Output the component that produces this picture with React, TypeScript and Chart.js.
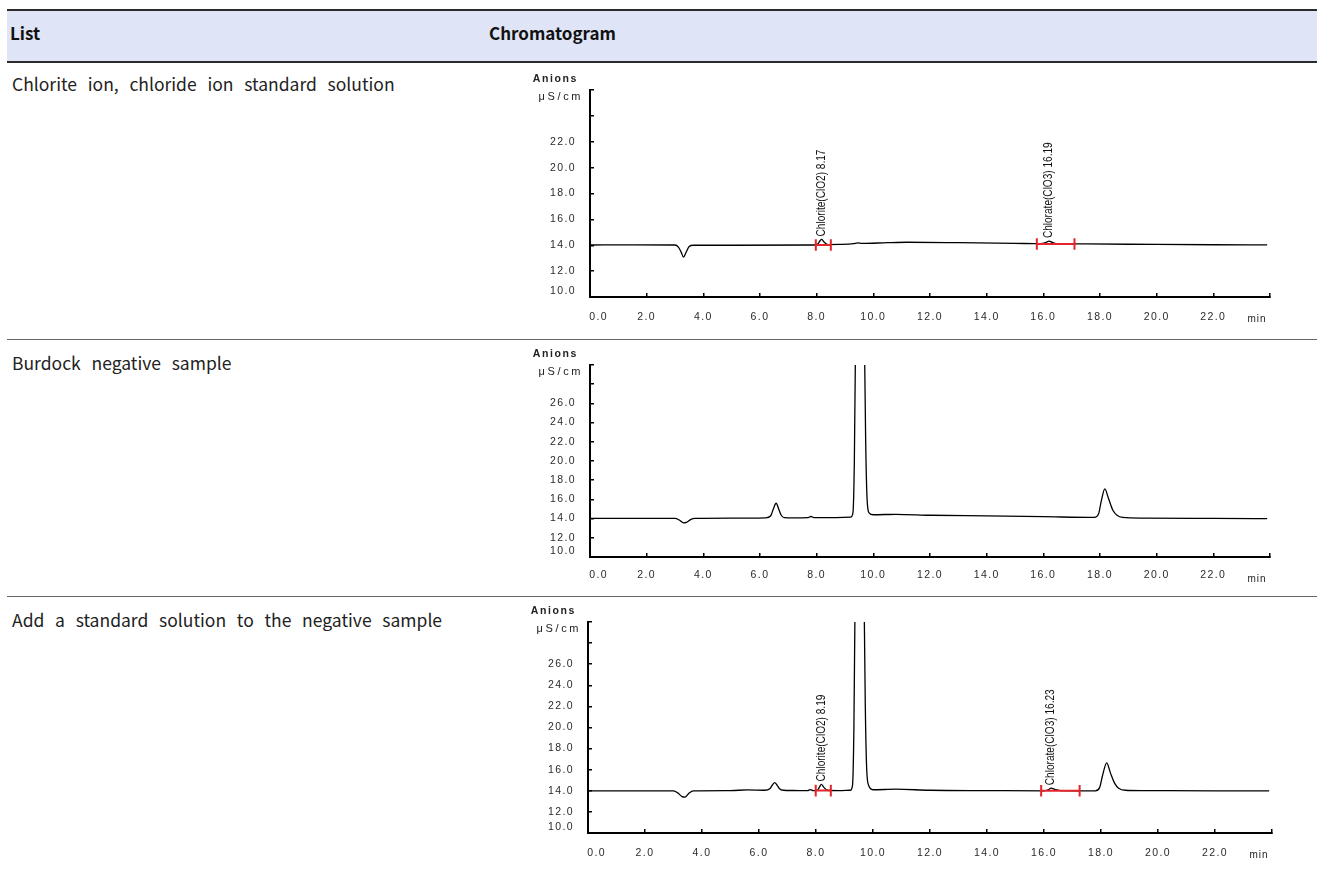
import React, { useEffect, useRef } from 'react';
import { Chart, registerables } from 'chart.js';

Chart.register(...registerables);

// ---------- table text ----------
const headerLabels = ['List', 'Chromatogram'];
const rowLabels = [
  'Chlorite ion, chloride ion standard solution',
  'Burdock negative sample',
  'Add a standard solution to the negative sample',
];

// ---------- axis settings ----------
const xMin = 0;
const xMax = 24;
const xStep = 2;
const xUnit = 'min';
const yUnitTitle = 'Anions';
const yUnit = 'μS/cm';
const yStep = 2;

// ---------- chart 1: standard solution ----------
const stdTime = [0, 1.5, 3.0, 3.12, 3.22, 3.3, 3.38, 3.5, 3.65, 5.0, 7.9, 8.05, 8.12, 8.18, 8.26, 8.4, 8.8, 9.3, 9.45, 9.6, 10.5, 11.2, 13.0, 15.0, 15.9, 16.1, 16.2, 16.32, 16.5, 17.5, 20.0, 22.0, 23.9];
const stdSignal = [14.02, 14.03, 14.02, 13.85, 13.45, 13.08, 13.4, 13.9, 14.0, 14.0, 14.02, 14.12, 14.35, 14.45, 14.25, 14.05, 14.06, 14.12, 14.18, 14.14, 14.2, 14.23, 14.2, 14.15, 14.12, 14.22, 14.32, 14.22, 14.12, 14.1, 14.06, 14.04, 14.03];
const stdYMax = 26;
const stdLastLabel = 22;
const stdPeakNames = ['Chlorite(ClO2) 8.17', 'Chlorate(ClO3) 16.19'];
const stdPeakTimes = [8.17, 16.19];
const stdIntStart = [7.97, 15.77];
const stdIntEnd = [8.5, 17.1];
const stdIntLevel = [14.02, 14.1];

// ---------- chart 2: burdock negative sample ----------
const negTime = [0, 2.0, 3.0, 3.15, 3.3, 3.4, 3.55, 3.7, 5.0, 6.2, 6.38, 6.47, 6.57, 6.66, 6.74, 6.85, 7.2, 7.7, 7.8, 7.9, 8.5, 9.2, 9.28, 9.33, 9.37, 9.45, 9.52, 9.6, 9.68, 9.73, 9.78, 9.85, 10.0, 10.8, 12.0, 14.0, 16.0, 17.8, 17.95, 18.05, 18.17, 18.3, 18.45, 18.6, 18.8, 19.5, 22.0, 23.9];
const negSignal = [14.02, 14.03, 14.02, 13.85, 13.55, 13.6, 13.9, 14.02, 14.05, 14.08, 14.3, 15.0, 15.6, 15.0, 14.4, 14.1, 14.08, 14.1, 14.22, 14.1, 14.1, 14.15, 14.6, 20.0, 32.0, 60, 75, 60, 34, 22, 16, 14.6, 14.4, 14.45, 14.35, 14.28, 14.2, 14.12, 14.5, 15.9, 17.1, 16.1, 14.9, 14.35, 14.12, 14.05, 14.02, 14.0];
const negYMax = 30;
const negLastLabel = 26;

// ---------- chart 3: negative sample + standard ----------
const spkTime = [0, 2.0, 3.0, 3.15, 3.3, 3.4, 3.55, 3.7, 5.0, 5.6, 6.2, 6.38, 6.47, 6.55, 6.63, 6.72, 6.85, 7.2, 7.7, 7.8, 7.9, 8.05, 8.12, 8.19, 8.27, 8.4, 8.8, 9.2, 9.28, 9.33, 9.37, 9.45, 9.52, 9.6, 9.68, 9.73, 9.78, 9.85, 10.0, 10.8, 12.0, 14.0, 16.0, 16.15, 16.25, 16.4, 16.6, 17.8, 17.95, 18.05, 18.2, 18.33, 18.48, 18.62, 18.85, 19.5, 22.0, 23.9];
const spkSignal = [14.0, 14.0, 14.0, 13.8, 13.45, 13.4, 13.8, 14.0, 14.02, 14.08, 14.05, 14.2, 14.55, 14.78, 14.55, 14.2, 14.05, 14.03, 14.02, 14.12, 14.02, 14.05, 14.35, 14.6, 14.35, 14.05, 14.02, 14.05, 14.5, 20.0, 32.0, 60, 75, 60, 34, 22, 16, 14.5, 14.1, 14.15, 14.05, 14.02, 14.0, 14.1, 14.25, 14.12, 14.02, 14.0, 14.3, 15.4, 16.65, 15.7, 14.7, 14.25, 14.05, 14.02, 14.0, 14.0];
const spkYMax = 30;
const spkLastLabel = 26;
const spkPeakNames = ['Chlorite(ClO2) 8.19', 'Chlorate(ClO3) 16.23'];
const spkPeakTimes = [8.19, 16.23];
const spkIntStart = [7.99, 15.9];
const spkIntEnd = [8.52, 17.25];
const spkIntLevel = [14.02, 14.0];

const FONT = "'Liberation Sans', Arial, sans-serif";
const TEXT_FONT = "'Noto Sans CJK KR', 'Noto Sans', sans-serif";

type Props = {
  time: number[];
  signal: number[];
  yMax: number;
  lastLabel: number;
  peakNames?: string[];
  peakTimes?: number[];
  intStart?: number[];
  intEnd?: number[];
  intLevel?: number[];
  markHalf: number;
  left: number;
  top: number;
  width: number;
  height: number;
  xAxisH: number;
  xPad: number;
};

function Chromatogram(p: Props) {
  const ref = useRef<HTMLCanvasElement | null>(null);
  useEffect(() => {
    if (!ref.current) return;
    const trace = p.time.map((t, i) => ({ x: t, y: p.signal[i] }));
    const marks: { x: number; y: number | null }[] = [];
    (p.intStart || []).forEach((a, i) => {
      const b = (p.intEnd as number[])[i];
      const L = (p.intLevel as number[])[i];
      marks.push(
        { x: a, y: L - p.markHalf }, { x: a, y: L + p.markHalf }, { x: a, y: null },
        { x: b, y: L - p.markHalf }, { x: b, y: L + p.markHalf }, { x: b, y: null },
        { x: a, y: L }, { x: b, y: L }, { x: b, y: null },
      );
    });

    const decor = {
      id: 'decor',
      beforeDraw(chart: any) {
        chart.ctx.letterSpacing = '1.4px';
      },
      afterDraw(chart: any) {
        const ctx = chart.ctx as CanvasRenderingContext2D;
        const area = chart.chartArea;
        const xs = chart.scales.x;
        const ys = chart.scales.y;
        ctx.save();
        ctx.fillStyle = '#222';
        ctx.textAlign = 'right';
        ctx.textBaseline = 'middle';
        (ctx as any).letterSpacing = '1.6px';
        ctx.font = `bold 10.5px ${FONT}`;
        ctx.fillText(yUnitTitle, area.left - 12, area.top - 11);
        (ctx as any).letterSpacing = '2.6px';
        ctx.font = `11px ${FONT}`;
        ctx.fillText(yUnit, area.left - 7, area.top + 7);
        (ctx as any).letterSpacing = '1px';
        ctx.textAlign = 'center';
        ctx.font = `10px ${FONT}`;
        ctx.fillText(xUnit, area.right - 13, area.bottom + 22);
        // peak name labels
        (ctx as any).letterSpacing = '0px';
        ctx.fillStyle = '#111';
        ctx.font = `12px ${FONT}`;
        (p.peakNames || []).forEach((name, i) => {
          const t = (p.peakTimes as number[])[i];
          let apex = -Infinity;
          p.time.forEach((tt, j) => {
            if (Math.abs(tt - t) < 0.12) apex = Math.max(apex, p.signal[j]);
          });
          const px = xs.getPixelForValue(t);
          const py = ys.getPixelForValue(apex) - 3;
          ctx.save();
          ctx.translate(px, py);
          ctx.rotate(-Math.PI / 2);
          ctx.scale(0.84, 1);
          ctx.textAlign = 'left';
          ctx.textBaseline = 'middle';
          ctx.fillText(name, 0, 0);
          ctx.restore();
        });
        ctx.restore();
      },
    };

    const tickFont = { family: FONT, size: 10.5 };
    const chart = new Chart(ref.current, {
      type: 'line',
      data: {
        datasets: [
          {
            data: marks as any,
            borderColor: '#e3242b',
            borderWidth: 2,
            pointRadius: 0,
            tension: 0,
            spanGaps: false,
          },
          {
            data: trace as any,
            borderColor: '#000',
            borderWidth: 1.3,
            pointRadius: 0,
            tension: 0.4,
            cubicInterpolationMode: 'monotone',
          },
        ],
      },
      options: {
        animation: false,
        responsive: false,
        maintainAspectRatio: false,
        layout: { padding: { top: 20, right: 10, left: 0, bottom: 0 } },
        plugins: { legend: { display: false }, tooltip: { enabled: false } },
        elements: { point: { radius: 0 } },
        scales: {
          x: {
            type: 'linear',
            min: xMin,
            max: xMax,
            ticks: {
              stepSize: xStep,
              autoSkip: false,
              maxRotation: 0,
              padding: p.xPad,
              color: '#2a2a2a',
              font: tickFont,
              callback: (v: any) => (v === 0 ? '    0.0' : v >= xMax ? '' : Number(v).toFixed(1)),
            },
            grid: { drawOnChartArea: false, drawTicks: true, tickLength: -4, color: '#000', lineWidth: 1.5 },
            border: { display: true, color: '#000', width: 2 },
            afterFit: (s: any) => {
              s.height = p.xAxisH;
              s.paddingLeft = 0;
              s.paddingRight = 0;
            },
          },
          y: {
            type: 'linear',
            min: 10,
            max: p.yMax,
            ticks: {
              stepSize: yStep,
              autoSkip: false,
              padding: 18,
              color: '#2a2a2a',
              font: tickFont,
              callback: (v: any) => (v > p.lastLabel ? '' : v === 10 ? ['10.0', ''] : Number(v).toFixed(1)),
            },
            grid: { drawOnChartArea: false, drawTicks: true, tickLength: -4, color: '#000', lineWidth: 1.5 },
            border: { display: true, color: '#000', width: 2 },
            afterFit: (s: any) => {
              s.width = 70;
              s.paddingTop = 0;
              s.paddingBottom = 0;
            },
          },
        },
      },
      plugins: [decor],
    } as any);
    return () => chart.destroy();
  }, []);
  return (
    <canvas
      ref={ref}
      width={p.width}
      height={p.height}
      style={{ position: 'absolute', left: p.left, top: p.top, width: p.width, height: p.height }}
    />
  );
}

export default function App() {
  const rowText: React.CSSProperties = {
    position: 'absolute',
    left: 12,
    fontFamily: TEXT_FONT,
    fontSize: 17.5,
    lineHeight: '20px',
    wordSpacing: 6.8,
    color: '#222',
    whiteSpace: 'nowrap',
  };
  const head: React.CSSProperties = {
    position: 'absolute',
    top: 23,
    fontFamily: TEXT_FONT,
    fontWeight: 700,
    fontSize: 17,
    lineHeight: '20px',
    color: '#111',
  };
  return (
    <div style={{ position: 'absolute', left: 0, top: 0, width: 1317, height: 869, overflow: 'hidden', background: '#fff' }}>
      <div style={{ position: 'absolute', left: 7, right: 0, top: 9, height: 50, background: '#dfe5f6', borderTop: '2px solid #2a2a2a', borderBottom: '2px solid #2a2a2a' }} />
      <div style={{ ...head, left: 10 }}>{headerLabels[0]}</div>
      <div style={{ ...head, left: 489 }}>{headerLabels[1]}</div>
      <div style={{ position: 'absolute', left: 7, right: 0, top: 339, height: 0, borderTop: '1.5px solid #666' }} />
      <div style={{ position: 'absolute', left: 7, right: 0, top: 596, height: 0, borderTop: '1.5px solid #666' }} />
      <div style={{ ...rowText, top: 74 }}>{rowLabels[0]}</div>
      <div style={{ ...rowText, top: 353 }}>{rowLabels[1]}</div>
      <div style={{ ...rowText, top: 610 }}>{rowLabels[2]}</div>

      <Chromatogram
        time={stdTime}
        signal={stdSignal}
        yMax={stdYMax}
        lastLabel={stdLastLabel}
        peakNames={stdPeakNames}
        peakTimes={stdPeakTimes}
        intStart={stdIntStart}
        intEnd={stdIntEnd}
        intLevel={stdIntLevel}
        markHalf={0.45}
        left={520}
        top={70}
        width={760}
        height={265}
        xAxisH={38}
        xPad={18}
      />
      <Chromatogram
        time={negTime}
        signal={negSignal}
        yMax={negYMax}
        lastLabel={negLastLabel}
        markHalf={0.5}
        left={520}
        top={345}
        width={760}
        height={250}
        xAxisH={38}
        xPad={16}
      />
      <Chromatogram
        time={spkTime}
        signal={spkSignal}
        yMax={spkYMax}
        lastLabel={spkLastLabel}
        peakNames={spkPeakNames}
        peakTimes={spkPeakTimes}
        intStart={spkIntStart}
        intEnd={spkIntEnd}
        intLevel={spkIntLevel}
        markHalf={0.55}
        left={518}
        top={602}
        width={764}
        height={267}
        xAxisH={36}
        xPad={18}
      />
    </div>
  );
}
